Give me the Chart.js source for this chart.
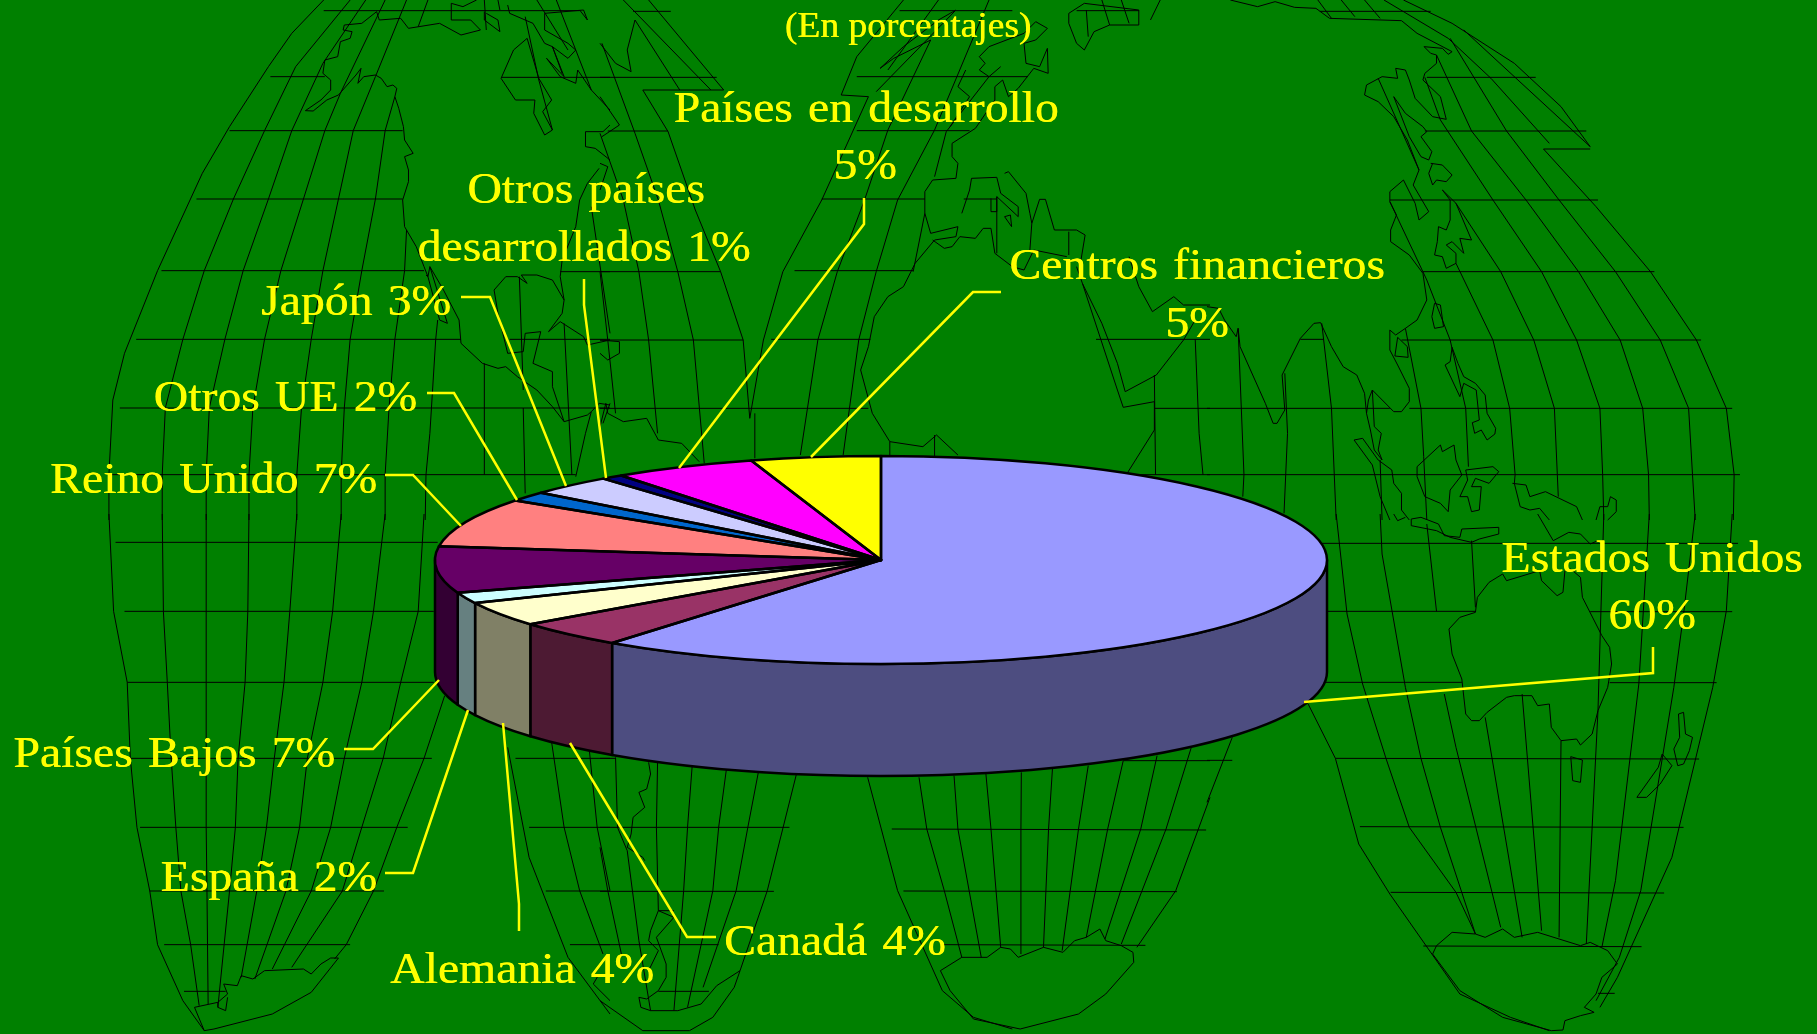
<!DOCTYPE html>
<html><head><meta charset="utf-8">
<style>html,body{margin:0;padding:0;background:#008000;overflow:hidden}canvas{display:block}</style>
<script src="https://cdn.jsdelivr.net/npm/chart.js@4"></script>
</head><body><canvas id="c" width="1817" height="1034"></canvas>
<script>
const categories=["Estados Unidos","Canadá","Alemania","España","Países Bajos","Reino Unido","Otros UE","Japón","Otros países desarrollados","Países en desarrollo","Centros financieros"];
const values=[60.3,4.1,3.8,1.7,7.2,7.6,1.5,3.1,0.8,5.2,4.7];
const topColors=["#9999FF","#993366","#FFFFCC","#CCFFFF","#660066","#FF8080","#0066CC","#CCCCFF","#000080","#FF00FF","#FFFF00"];
const wallColors=["#4D4D80","#4D1A33","#808066","#668080","#330033","#804040","#003366","#666680","#000040","#800080","#808000"];
const subtitle="(En porcentajes)";
// label text: [line, anchor x, baseline y, align]
const labelLines=[
["Estados Unidos",1652,572,"center"],["60%",1652,629,"center"],
["Canadá 4%",724,955,"left"],
["Alemania 4%",390,983,"left"],
["España 2%",377,891,"right"],
["Países Bajos 7%",335,767,"right"],
["Reino Unido 7%",377,493,"right"],
["Otros UE 2%",417,411,"right"],
["Japón 3%",451,315,"right"],
["Otros países",586,203,"center"],["desarrollados 1%",584,261,"center"],
["Países en desarrollo",866,122,"center"],["5%",865,179,"center"],
["Centros financieros",1197,279,"center"],["5%",1197,337,"center"]];
const leaders=[
[1653,647,1653,673,1304,702],[716,937,687,937,570,743],[519,931,519,904,503,723],
[385,873,413,873,468,710],[344,749,373,749,439,680],[385,475,413,475,461,526],
[427,393,454,393,517,500],[461,297,490,297,566,486],[584,279,584,305,606,478],
[864,198,864,224,679,468],[1001,292,973,292,811,457]];

// Background world-map decoration, traced per tile (local coords: x*0.389, y/3)
const mapTiles=[
{ox:0,oy:0,lines:[
[832,32,1490,32],[695,230,835,230],[1290,232,1568,232],[590,392,1035,392],[505,597,1035,597],[415,812,1090,812],[1440,815,1568,815],[350,1018,1185,1018],[1310,1018,1568,1018],[308,1224,1568,1224],[280,1424,1480,1424],
[832,0,750,100,690,200,590,380,520,520,405,812,320,1060,290,1200,280,1424,280,1560],
[900,0,760,200,680,392,600,597,525,812,470,1018,425,1224,417,1424,417,1560],
[940,0,830,190,750,392,690,597,625,812,578,1018,538,1224,530,1424,530,1560],
[990,0,875,280,835,392,780,597,722,812,680,1018,650,1224,640,1424,640,1560],
[1045,0,965,230,908,392,870,597,830,812,800,1018,775,1224,763,1424,763,1560],
[1015,290,990,392,965,597,930,812,900,1018,885,1224,877,1424,877,1560],
[1045,690,1040,812,1015,1018,1000,1224,990,1424,990,1560],
[1125,960,1120,1018,1105,1300,1095,1424,1093,1560],
[1100,0,1075,80],[1245,0,1250,90],[1280,0,1285,30],[1350,50,1385,240,1420,390],[1420,140,1445,220],[1430,0,1520,270],[1380,0,1460,150],
[1245,1090,1245,1424],[1335,830,1345,1170],[1345,1224,1350,1480],[1450,970,1470,1424],[1520,620,1568,1000],
[968,35,930,70,885,75,882,90,905,95,900,115,875,125,868,170,835,180,830,220,850,240,850,270,825,300,785,332,805,333,840,300,870,285,915,225,928,205,920,250,935,230,965,225,980,235,995,260,1010,255,1020,265,1015,290,1025,325,1037,380,1040,420,1062,460,1040,470,1050,510,1050,545,1035,600,1040,680,1070,740,1090,800,1100,830,1095,825],
[1105,800,1150,970,1130,960,1100,830,1105,800],
[1105,800,1140,870,1180,960,1185,1030,1240,1090,1280,1105,1300,1100,1330,1130,1380,1170,1420,1220,1450,1265,1510,1245,1520,1235,1505,1300,1480,1430],
[1270,870,1300,830,1330,830,1355,850,1340,825,1380,825,1420,840,1450,900,1445,940,1410,995,1440,965,1500,1010,1510,1035,1568,1020],
[1270,870,1280,940,1305,1060,1345,1055,1350,1000,1390,995,1370,1090,1420,1115,1420,1160,1450,1265],
[968,35,975,60,1030,55,1050,85,1130,70,1185,105,1235,90,1210,60,1160,60,1160,10,1190,20,1225,0],
[1245,35,1245,60,1285,95,1280,60,1250,40],
[1305,15,1310,40,1370,70,1400,130,1420,140,1460,175,1480,150,1460,130,1400,90,1400,40,1500,30,1510,60,1490,30],
[1355,115,1320,150,1288,235,1325,300,1375,300,1372,340,1400,405,1420,390,1395,335,1418,300,1385,235,1355,115],
[1420,140,1450,230,1405,175,1440,230,1480,250,1485,210,1520,270,1568,330],
[1505,395,1550,395,1568,375],[1505,395,1505,440,1530,445,1568,480],
[1540,505,1510,550,1490,600,1480,680,1445,780,1440,830,1450,900],
[1520,1235,1540,1210,1568,1215],[1568,1210,1550,1270]
]},
{ox:600,oy:0,lines:[
[85,34,182,34],[770,32,1060,32],[1225,32,1385,32],[0,232,300,232],[660,230,1100,230],[20,393,175,393],[660,392,950,392],[570,597,835,597],[935,597,1020,597],[0,815,310,815],[500,812,805,812],[0,1020,368,1020],[440,1018,695,1018],[1275,1018,1568,1018],[0,1225,690,1225],[1425,1225,1568,1225],[1360,1424,1568,1424],
[110,270,318,270],[125,0,318,270],[60,0,285,270],[90,60,205,270],
[110,270,175,395,245,630,310,815,368,1020,385,1255],
[5,130,90,400,150,600,200,815,240,1020,268,1390],
[0,400,60,600,100,815,125,1020,148,1300],[0,815,20,1020,40,1240],[398,1240,398,1375],
[780,0,660,170,620,285,690,290,570,600,470,815,420,1020,385,1255],
[850,120,740,390,680,600,610,815,560,1020,515,1365],[915,30,710,275],[870,0,740,210],
[1000,0,860,390,765,600,710,815,665,1020,625,1365],
[1000,230,890,395,860,530],[835,640,805,815],
[1120,65,1150,85,1120,120,1090,130,1095,190,1130,200,1150,145,1152,220,1115,205,1075,265,1050,290,1035,240,1015,260,1015,300,965,385,905,430,905,470,920,490,915,535,855,540,835,575,835,640,850,700,920,680,915,710,860,720,810,790,780,860,740,890,705,950,690,1040,670,1110,700,1240,745,1325,830,1340,865,1305,920,1365],
[1120,65,1090,100,1000,140,975,170,990,190,975,210,1000,230,1030,200],
[915,30,870,60,780,140,720,205,755,175,850,120],[940,210,920,260,950,290,900,380],
[0,130,40,190,80,215,70,150,90,60],[0,290,50,375,5,410],[0,490,20,500,0,570],[0,1020,50,1025,50,1060,20,1080,0,1060],
[0,1280,15,1210,20,1240,60,1265,120,1255,150,1320,210,1330,255,1385],
[855,720,885,745,905,740,925,710,965,715,985,685,1005,685,1015,760,1060,800,1090,810,1115,750,1200,770],
[930,640,950,570,955,535,1020,532,1030,580,1075,620,1075,650,1020,590,1020,635,1005,635,1005,595],
[1040,520,1050,515,1095,580,1105,640,1110,670,1130,598,1145,598,1168,690,1225,690,1247,705,1235,790],
[1040,650,1055,645,1058,680,1040,650],[1020,590,1020,760],[1110,670,1105,750],[1205,695,1205,765],
[1225,800,1240,850,1290,970,1330,1090,1350,1175,1430,1125,1500,1020,1530,960],
[1360,770,1385,860,1420,935,1475,890,1500,915,1568,915],
[1240,850,1330,1170,1345,1222,1425,1205,1425,1290,1355,1420],[1425,1125,1428,1424],[1530,1018,1540,1300,1550,1424],
[1205,40,1245,10,1385,30,1385,75,1310,75,1270,95,1245,150,1225,130,1205,70,1205,40],[1415,60,1440,0],[1290,0,1310,75],[1340,0,1360,70],[1250,30,1255,110],
[860,1305,860,1370],[745,1325,745,1365]
]},
{ox:1207,oy:0,lines:[
[290,34,575,34],[565,232,845,232],[560,393,975,393],[470,600,1005,600],[555,815,1150,815],[500,1020,1270,1020],[240,1018,300,1018],[0,1225,470,1225],[520,1225,1350,1225],[0,1424,1370,1424],
[865,447,985,447],[505,0,630,70,790,190,910,320,985,440],[660,90,985,440],[865,447,1000,620,1140,815,1258,1020,1335,1225,1355,1424,1353,1560],
[455,0,620,115,730,235,880,430],
[590,165,680,393,820,600,955,815,1062,1020,1120,1225,1135,1424,1137,1560],
[625,115,770,393,905,600,1050,815,1165,1020,1238,1225,1248,1424,1255,1560],
[560,232,600,360,735,600,860,815,950,1020,1010,1225,1017,1424,1020,1560],
[640,610,755,815,840,1020,893,1225,903,1490],
[470,605,565,840,625,1020,665,1225,672,1400],
[640,790,735,1020,778,1225,792,1424,790,1450],
[440,235,545,510],
[510,985,550,1225,557,1370,565,1560],[295,970,320,1225,332,1560],[445,1380,450,1560],
[80,985,95,1424,92,1490],[200,1120,207,1300,198,1540],[285,0,320,55],[345,0,380,50],[405,0,445,55],
[0,920,30,925,45,960,75,1010,80,985,85,1040,150,1210,170,1270,180,1270,200,1230,193,1125,240,1015,275,970,292,968,320,1040,350,1100,385,1125,405,1180,410,1240],
[60,0,130,20,175,5,225,22,280,25,315,55,500,62,540,100,630,155,620,163,605,145,558,140,575,160,590,165,590,190,560,220,555,240,600,290,615,358,580,350,535,295,520,240,510,210,485,205,490,235,450,230,410,255,405,285,440,305,480,350,515,420,545,510,530,555,570,635,545,660,535,610,505,540,470,575,470,605,487,645,472,690,472,725,520,765,555,820,565,900,540,960,510,985,485,1005,470,990,470,1050,490,1095,520,1165,520,1205,500,1235,480,1235,425,1170,415,1200,410,1240,420,1290,430,1350,450,1380,440,1350,448,1300,430,1280,425,1170],
[480,290,510,340,555,380,565,395,550,410,578,455,570,480,550,470,520,410,480,290],
[575,490,605,495,630,525,615,545,590,540,580,555,570,520,580,490],
[605,570,625,600,625,660,615,690,595,680,592,725,585,765,605,770,615,805,640,790,640,760,615,735,630,725,660,760,650,715,680,720,640,610,605,570],
[585,910,600,915,608,980,585,985,578,950,585,910],[490,1012,515,1040,517,1072,483,1068,490,1012],
[630,1042,645,1090,660,1130,690,1150,715,1185,720,1240,742,1285,740,1302,720,1320,705,1290,688,1300,682,1268,700,1260,692,1170,660,1150,650,1190,612,1095,625,1085,630,1042],
[378,1320,400,1315,440,1380,475,1410,480,1450,500,1480,500,1530,520,1560],[378,1320,425,1395,445,1490,470,1560],
[600,1335,605,1355,635,1335,640,1380,655,1425,625,1470,620,1535,600,1510,560,1490,540,1430,540,1400,600,1335],
[665,1410,735,1400,750,1415,725,1450,690,1435,680,1460,705,1460,700,1530,680,1535,670,1490,650,1490,670,1440,665,1410],
[785,1450,820,1455,830,1490,870,1475,950,1520,965,1560],[790,1450,805,1520,830,1530,855,1525,880,1560],
[1000,1560,1010,1520,1030,1520,1037,1490,1052,1500,1052,1535,1030,1560]
]},
{ox:0,oy:514,lines:[
[297,85,1125,85],[320,292,1115,292],[327,505,1115,505],[335,733,1110,733],[1325,733,1568,733],[360,940,1048,940],[1360,940,1568,940],[385,1131,987,1131],[1403,1131,1568,1131],[422,1292,900,1292],[1465,1292,1568,1292],[473,1432,580,1432],
[280,0,292,292,327,505,335,733,352,940,385,1131,405,1292,470,1460,525,1550],
[417,0,420,292,430,505,440,733,452,940,465,1131,490,1292,512,1475],
[530,0,530,505,530,733,530,940,532,1131,535,1470],
[640,0,637,292,630,505,612,733,605,940,590,1131,560,1480],
[763,0,745,292,730,505,705,733,685,940,660,1131,620,1390],
[877,0,855,292,830,505,790,733,770,940,735,1131,655,1395],
[990,0,960,292,930,505,885,733,850,940,800,1131,700,1365],
[1090,0,1075,292,1030,505,985,733,930,940,880,1131,750,1360],
[1143,545,1090,733,1020,940,960,1131,890,1292,860,1335],
[1305,700,1360,1030,1460,1330,1568,1500],[1418,685,1450,940,1490,1130,1550,1320],[1515,710,1535,940,1568,1130],
[500,1480,560,1465,585,1440,575,1410,610,1415,620,1385,650,1395,680,1370,780,1365,800,1380,825,1350,850,1332,870,1332,800,1435,700,1500,550,1545,525,1550,500,1480],
[560,1465,560,1480,580,1490,585,1450],[1525,1410,1568,1460],[1525,1410,1540,1380]
]},
{ox:600,oy:514,lines:[
[0,733,40,733],[0,940,487,940],[750,945,1558,948],[0,1132,447,1132],[780,1131,1483,1133],[0,1292,305,1292],[880,1292,1402,1294],[150,1432,280,1432],[1345,740,1568,740],
[505,780,430,1130,360,1370],[407,775,380,940,350,1130,265,1420],[325,765,305,940,290,1130,225,1480],[237,755,225,940,215,1130,190,1490],[148,745,145,940,150,1190],
[40,730,45,940,70,1010],[70,1010,100,1280,130,1490],[0,1000,20,1130,55,1320],
[688,790,765,1130,880,1430],[820,790,840,945,885,1130,930,1330],[910,785,920,945,980,1330],[992,780,1005,945,1030,1300],[1083,775,1082,945,1082,1320],[1163,765,1153,945,1140,1300],[1255,755,1230,945,1188,1310],[1345,740,1305,945,1250,1270],[1432,725,1390,945,1298,1275],[1520,700,1455,945,1340,1290],[1568,850,1480,1130,1380,1300],
[125,745,130,780,120,825,100,835,115,880,85,910,80,960,70,1000,110,1030,115,1040],
[150,1190,190,1210,145,1270,170,1350,170,1390,150,1430,120,1455,100,1450,105,1480,130,1490,200,1490,260,1470,300,1415,360,1370,345,1420,290,1510,230,1550,110,1550,0,1460],
[190,1190,150,1190,130,1250,125,1280,150,1310,125,1370],
[875,1370,930,1330,995,1330,1030,1300,1055,1305,1075,1330,1140,1300,1190,1315,1220,1280,1250,1270,1285,1245,1300,1280,1340,1295,1370,1315,1372,1345,1300,1440,1230,1500,1080,1545,960,1515,900,1430,875,1370],
[880,1430,960,1510,1060,1545]
]},
{ox:1207,oy:514,lines:[
[295,88,1365,88],[310,292,690,292],[985,293,1350,293],[305,505,655,505],[1035,506,1310,506],[0,739,65,739],[330,733,1265,735],[393,938,1225,940],[472,1135,1175,1137],[556,1296,1117,1298],[1005,1438,1048,1438],
[65,670,0,865],[260,570,330,733,390,990,470,1140,650,1440,780,1510,880,1550],
[332,0,360,300,400,510,460,733,520,940,640,1135,690,1260],
[445,0,450,120,510,520,550,733,600,940,690,1260],
[565,30,590,292],[610,540,640,700,755,1240],[680,80,690,280],[715,610,810,1270],[810,540,860,1250],[910,680,905,1270],[1020,0,1005,590,975,1290],
[1137,0,1110,510,1050,1100,1015,1300],[1255,0,1225,300,1200,520,1115,1130,1060,1330,1000,1460],[1350,0,1335,290,1300,520,1195,1030,1055,1390,1010,1480],
[480,0,490,20,510,10],[525,15,550,10,595,30,610,65,650,70,655,45,750,40,750,60,700,75,680,85,625,70,590,50,525,35,525,15],
[850,0,890,80,930,55,960,60,985,90,1005,80],
[760,180,725,205,695,250,690,295,650,310,622,345,630,420,655,495,665,600,680,620,700,620,720,595,770,550,790,545,835,545,850,575,880,570,885,640,910,680,950,675,960,693,990,660,1005,590,1030,520,1040,450,1035,400,1015,365,965,250,960,190,935,165,920,170,915,235,900,245,860,200,855,170,770,200,760,180],
[935,728,965,738,960,805,940,800,935,728],
[1212,600,1225,595,1230,660,1248,670,1240,710,1225,750,1210,755,1200,705,1215,670,1212,600],
[1170,720,1195,755,1165,810,1130,850,1105,850,1160,760,1170,720],
[590,1295,630,1255,690,1260,715,1270,760,1245,790,1270,850,1255,960,1295,985,1285,1030,1310,1055,1350,1015,1390,1000,1440,970,1480,995,1495,960,1505,920,1520,915,1548,885,1550,760,1510,650,1430,580,1320,590,1295]
]}];

const BG="#008000",INK="#000000",YEL="#FFFF00";
const CX=881,CY=560,RX=446,RY=104,DEPTH=112;
const squash=RY/RX;
const mapPlugin={id:"map",beforeDraw(ch){
  const c=ch.ctx;c.save();c.fillStyle=BG;c.fillRect(0,0,ch.width,ch.height);
  c.strokeStyle=INK;c.lineWidth=1;c.lineJoin="round";
  for(const t of mapTiles)for(const l of t.lines){
    c.beginPath();
    for(let i=0;i<l.length;i+=2){const x=t.ox+l[i]*610/1568,y=t.oy+l[i+1]/3;i?c.lineTo(x,y):c.moveTo(x,y);}
    c.stroke();
  }
  c.restore();
}};
function stretched(c,t,x,y,al,sx){c.save();c.translate(x,y);c.scale(sx,1);c.textAlign=al;c.fillText(t,0,0);c.restore();}
const pie3d={id:"pie3d",
 beforeDatasetsDraw(ch){
  const c=ch.ctx,arcs=ch.getDatasetMeta(0).data,a0=arcs[0];
  const cx=a0.x,cy=a0.y,rx=a0.outerRadius,ry=rx*squash;
  c.save();c.lineWidth=2.5;c.strokeStyle=INK;c.lineJoin="round";
  arcs.forEach((a,i)=>{
    const s=Math.max(a.startAngle,0),e=Math.min(a.endAngle,Math.PI);
    if(e<=s)return;
    c.beginPath();c.ellipse(cx,cy,rx,ry,0,s,e);c.ellipse(cx,cy+DEPTH,rx,ry,0,e,s,true);c.closePath();
    c.fillStyle=wallColors[i];c.fill();c.stroke();
  });
  c.restore();
  c.save();c.translate(cx,cy);c.scale(1,squash);c.translate(-cx,-cy);
 },
 afterDatasetsDraw(ch){
  const c=ch.ctx,arcs=ch.getDatasetMeta(0).data;
  c.restore();
  c.save();c.strokeStyle=INK;c.lineWidth=2.5;c.lineJoin="round";
  arcs.forEach(a=>{
    c.save();c.translate(a.x,a.y);c.scale(1,squash);
    c.beginPath();c.moveTo(0,0);c.arc(0,0,a.outerRadius,a.startAngle,a.endAngle);c.closePath();
    c.restore();c.stroke();
  });
  c.strokeStyle=YEL;c.lineWidth=2.5;c.lineJoin="miter";
  for(const l of leaders){c.beginPath();c.moveTo(l[0],l[1]);for(let i=2;i<l.length;i+=2)c.lineTo(l[i],l[i+1]);c.stroke();}
  c.fillStyle=YEL;c.textBaseline="alphabetic";
  c.shadowColor=YEL;c.shadowOffsetX=0.5;c.shadowOffsetY=0;c.shadowBlur=0;
  c.font='45px "Liberation Serif"';c.wordSpacing="3px";
  for(const [t,x,y,al] of labelLines)stretched(c,t,x,y,al,1.06);
  c.font='36px "Liberation Serif"';c.wordSpacing="0px";
  stretched(c,subtitle,908,37,"center",1.04);
  c.restore();
 }};
new Chart(document.getElementById("c"),{type:"pie",
 data:{labels:categories,datasets:[{data:values,backgroundColor:topColors,borderWidth:0}]},
 options:{responsive:false,animation:false,rotation:0,
  layout:{padding:{left:CX-RX,right:1817-CX-RX,top:CY-RX,bottom:1034-CY-RX}},
  plugins:{legend:{display:false},tooltip:{enabled:false},title:{display:false}},events:[]},
 plugins:[mapPlugin,pie3d]});
</script></body></html>
